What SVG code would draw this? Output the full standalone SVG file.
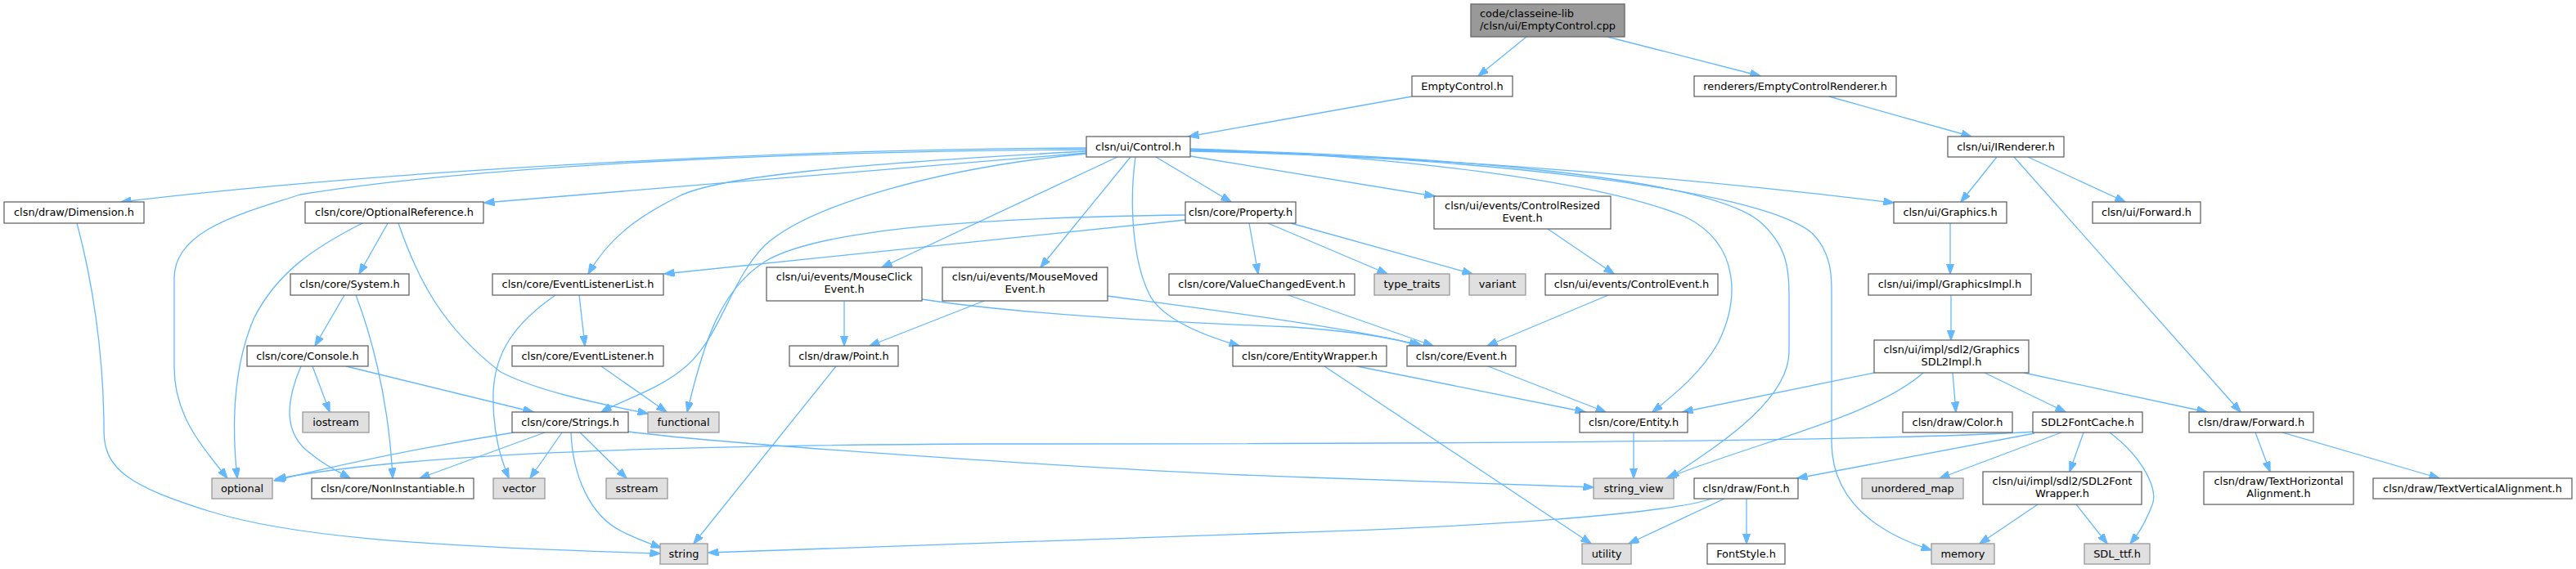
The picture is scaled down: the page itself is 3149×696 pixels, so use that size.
<svg xmlns="http://www.w3.org/2000/svg" width="3149" height="696" viewBox="0 0 3149 696">
<style>
text{font-family:"DejaVu Sans","Liberation Sans",sans-serif;font-size:12.9px;fill:#000;text-anchor:middle}
.n rect{fill:#fff;stroke:#666;stroke-width:1.3}
.s rect{fill:#e0e0e0;stroke:#999;stroke-width:1.3}
.r rect{fill:#999;stroke:#666;stroke-width:1.3}
.r text{text-anchor:start}
#edges path{fill:none;stroke:#63b8ff;stroke-width:1.3;marker-end:url(#ah)}
</style>
<defs>
<marker id="ah" viewBox="0 0 13 9.4" refX="12.5" refY="4.7" markerWidth="13" markerHeight="9.4" markerUnits="userSpaceOnUse" orient="auto"><path d="M0,0 L13,4.7 L0,9.4 z" fill="#63b8ff" stroke="#63b8ff" stroke-width="1"/></marker>
</defs>
<rect width="3149" height="696" fill="#fff"/>
<g id="edges">
<path d="M1866,45 L1807,93"/>
<path d="M1965,45 L2152,93"/>
<path d="M1726,118 L1453,167"/>
<path d="M2236,118 L2410,167"/>
<path d="M1328,181 C1000,182 500,205 148,247"/>
<path d="M1328,183 C1000,185 600,200 367,238 C300,260 213,280 213,340 L213,450 C213,510 250,550 278,585"/>
<path d="M1328,187 L592,248"/>
<path d="M1328,185 C1050,200 880,215 830,240 C780,265 745,290 719,335"/>
<path d="M1328,188 C1150,205 990,250 935,300 C890,345 880,420 830,455 C800,478 760,490 735,504"/>
<path d="M1449,263 C1200,266 1000,280 935,320 C880,355 860,420 840,504"/>
<path d="M1366,192 L1078,327"/>
<path d="M1382,192 L1272,327"/>
<path d="M1388,192 C1380,250 1385,320 1405,360 C1420,390 1470,410 1515,423"/>
<path d="M1413,192 L1505,247"/>
<path d="M1455,191 L1754,240"/>
<path d="M1455,185 C1700,190 2000,210 2315,248"/>
<path d="M1455,182 C1700,190 1950,220 2060,265 C2130,300 2125,370 2100,420 C2080,455 2050,480 2020,504"/>
<path d="M1455,183 C1750,190 2080,215 2150,270 C2185,300 2187,330 2187,360 L2187,430 C2187,490 2100,545 2040,585"/>
<path d="M1455,184 C1800,192 2150,230 2215,285 C2240,310 2239,340 2239,360 L2239,540 C2239,610 2290,650 2361,673"/>
<path d="M474,273 L439,335"/>
<path d="M443,273 C390,300 340,330 310,390 C285,450 283,520 290,585"/>
<path d="M487,273 C510,340 540,400 612,455 C660,480 740,495 792,506"/>
<path d="M421,361 L385,423"/>
<path d="M435,361 C450,400 475,480 480,585"/>
<path d="M382,448 L403,504"/>
<path d="M423,448 L652,504"/>
<path d="M368,448 C350,490 345,530 380,555 C395,568 410,575 428,585"/>
<path d="M679,361 C630,395 605,430 603,480 C602,530 612,560 622,585"/>
<path d="M708,361 L715,423"/>
<path d="M735,448 L815,504"/>
<path d="M628,529 C560,540 450,560 335,588"/>
<path d="M666,529 L513,585"/>
<path d="M687,529 L648,585"/>
<path d="M709,529 L766,585"/>
<path d="M698,529 C700,580 720,630 760,650 C780,660 795,665 808,670"/>
<path d="M768,528 C900,545 1400,578 1600,584 C1750,589 1880,593 1948,596"/>
<path d="M94,273 C112,340 127,430 127,527 C127,575 160,595 255,625 C350,655 500,668 807,677"/>
<path d="M1022,448 L848,665"/>
<path d="M1032,368 L1032,423"/>
<path d="M1127,366 C1250,385 1450,395 1580,400 C1650,405 1700,412 1735,423"/>
<path d="M1203,368 L1063,423"/>
<path d="M1354,362 C1450,375 1650,400 1739,423"/>
<path d="M1575,361 L1752,423"/>
<path d="M1966,361 L1818,423"/>
<path d="M1892,280 L1973,335"/>
<path d="M1527,273 L1538,335"/>
<path d="M1550,273 L1696,335"/>
<path d="M1578,273 L1800,335"/>
<path d="M1449,269 L812,335"/>
<path d="M1819,448 L1963,504"/>
<path d="M1659,448 L1938,504"/>
<path d="M1619,448 L1945,665"/>
<path d="M1997,529 L1997,585"/>
<path d="M2384,273 L2384,335"/>
<path d="M2385,361 L2385,416"/>
<path d="M2291,456 L2057,504"/>
<path d="M2351,456 C2290,510 2150,540 2037,585"/>
<path d="M2387,456 L2391,504"/>
<path d="M2426,456 L2525,504"/>
<path d="M2474,456 L2698,504"/>
<path d="M2441,192 L2397,247"/>
<path d="M2479,192 L2598,247"/>
<path d="M2462,192 L2739,504"/>
<path d="M2757,529 L2775,577"/>
<path d="M2790,529 L2982,585"/>
<path d="M2489,528 C2300,540 1700,543 1200,543 C800,545 500,555 337,586"/>
<path d="M2487,530 L2197,585"/>
<path d="M2520,529 L2371,585"/>
<path d="M2547,529 L2530,577"/>
<path d="M2579,529 C2620,560 2640,600 2630,620 C2620,645 2612,655 2604,665"/>
<path d="M2491,617 L2420,665"/>
<path d="M2538,617 L2576,665"/>
<path d="M2108,610 L1991,665"/>
<path d="M2135,610 L2135,665"/>
<path d="M2093,610 C2030,630 1800,645 1560,652 L866,676"/>
</g>
<g id="n_cpp" class="r"><rect x="1798" y="5" width="188" height="40"/><text x="1809" y="20.5">code/classeine-lib</text><text x="1809" y="35.7">/clsn/ui/EmptyControl.cpp</text></g>
<g id="n_emptyctl" class="n"><rect x="1726" y="93" width="123" height="25"/><text x="1787.5" y="109.5">EmptyControl.h</text></g>
<g id="n_renderer" class="n"><rect x="2071" y="93" width="247" height="25"/><text x="2194.5" y="109.5">renderers/EmptyControlRenderer.h</text></g>
<g id="n_control" class="n"><rect x="1328" y="167" width="127" height="25"/><text x="1391.5" y="183.5">clsn/ui/Control.h</text></g>
<g id="n_irenderer" class="n"><rect x="2381" y="167" width="142" height="25"/><text x="2452" y="183.5">clsn/ui/IRenderer.h</text></g>
<g id="n_dimension" class="n"><rect x="5" y="247" width="171" height="26"/><text x="90.5" y="263.5">clsn/draw/Dimension.h</text></g>
<g id="n_optref" class="n"><rect x="373" y="247" width="218" height="26"/><text x="482" y="263.5">clsn/core/OptionalReference.h</text></g>
<g id="n_property" class="n"><rect x="1449" y="247" width="135" height="26"/><text x="1516.5" y="263.5">clsn/core/Property.h</text></g>
<g id="n_ctlresized" class="n"><rect x="1753" y="240" width="216" height="40"/><text x="1861" y="255.5">clsn/ui/events/ControlResized</text><text x="1861" y="270.7">Event.h</text></g>
<g id="n_graphics" class="n"><rect x="2315" y="247" width="138" height="26"/><text x="2384" y="263.5">clsn/ui/Graphics.h</text></g>
<g id="n_uiforward" class="n"><rect x="2558" y="247" width="132" height="26"/><text x="2624" y="263.5">clsn/ui/Forward.h</text></g>
<g id="n_system" class="n"><rect x="355" y="335" width="145" height="26"/><text x="427.5" y="351.5">clsn/core/System.h</text></g>
<g id="n_evlistlist" class="n"><rect x="602" y="335" width="209" height="26"/><text x="706.5" y="351.5">clsn/core/EventListenerList.h</text></g>
<g id="n_mouseclick" class="n"><rect x="937" y="327" width="190" height="41"/><text x="1032" y="343">clsn/ui/events/MouseClick</text><text x="1032" y="358.3">Event.h</text></g>
<g id="n_mousemoved" class="n"><rect x="1152" y="327" width="202" height="41"/><text x="1253" y="343">clsn/ui/events/MouseMoved</text><text x="1253" y="358.3">Event.h</text></g>
<g id="n_valuechanged" class="n"><rect x="1429" y="335" width="227" height="26"/><text x="1542.5" y="351.5">clsn/core/ValueChangedEvent.h</text></g>
<g id="n_typetraits" class="s"><rect x="1680" y="335" width="92" height="26"/><text x="1726" y="351.5">type_traits</text></g>
<g id="n_variant" class="s"><rect x="1796" y="335" width="69" height="26"/><text x="1830.5" y="351.5">variant</text></g>
<g id="n_ctlevent" class="n"><rect x="1889" y="335" width="211" height="26"/><text x="1994.5" y="351.5">clsn/ui/events/ControlEvent.h</text></g>
<g id="n_gfximpl" class="n"><rect x="2284" y="335" width="199" height="26"/><text x="2383.5" y="351.5">clsn/ui/impl/GraphicsImpl.h</text></g>
<g id="n_console" class="n"><rect x="302" y="423" width="148" height="25"/><text x="376" y="439.5">clsn/core/Console.h</text></g>
<g id="n_evlistener" class="n"><rect x="626" y="423" width="185" height="25"/><text x="718.5" y="439.5">clsn/core/EventListener.h</text></g>
<g id="n_point" class="n"><rect x="965" y="423" width="133" height="25"/><text x="1031.5" y="439.5">clsn/draw/Point.h</text></g>
<g id="n_entitywrapper" class="n"><rect x="1507" y="423" width="188" height="25"/><text x="1601" y="439.5">clsn/core/EntityWrapper.h</text></g>
<g id="n_event" class="n"><rect x="1720" y="423" width="133" height="25"/><text x="1786.5" y="439.5">clsn/core/Event.h</text></g>
<g id="n_gfxsdl2" class="n"><rect x="2291" y="416" width="189" height="40"/><text x="2385.5" y="431.5">clsn/ui/impl/sdl2/Graphics</text><text x="2385.5" y="446.7">SDL2Impl.h</text></g>
<g id="n_iostream" class="s"><rect x="370" y="504" width="81" height="25"/><text x="410.5" y="520.5">iostream</text></g>
<g id="n_strings" class="n"><rect x="626" y="504" width="142" height="25"/><text x="697" y="520.5">clsn/core/Strings.h</text></g>
<g id="n_functional" class="s"><rect x="792" y="504" width="87" height="25"/><text x="835.5" y="520.5">functional</text></g>
<g id="n_entity" class="n"><rect x="1931" y="504" width="132" height="25"/><text x="1997" y="520.5">clsn/core/Entity.h</text></g>
<g id="n_color" class="n"><rect x="2326" y="504" width="134" height="25"/><text x="2393" y="520.5">clsn/draw/Color.h</text></g>
<g id="n_fontcache" class="n"><rect x="2485" y="504" width="134" height="25"/><text x="2552" y="520.5">SDL2FontCache.h</text></g>
<g id="n_drawforward" class="n"><rect x="2676" y="504" width="152" height="25"/><text x="2752" y="520.5">clsn/draw/Forward.h</text></g>
<g id="n_optional" class="s"><rect x="259" y="585" width="74" height="25"/><text x="296" y="601.5">optional</text></g>
<g id="n_noninst" class="n"><rect x="381" y="585" width="198" height="25"/><text x="480" y="601.5">clsn/core/NonInstantiable.h</text></g>
<g id="n_vector" class="s"><rect x="603" y="585" width="63" height="25"/><text x="634.5" y="601.5">vector</text></g>
<g id="n_sstream" class="s"><rect x="741" y="585" width="75" height="25"/><text x="778.5" y="601.5">sstream</text></g>
<g id="n_stringview" class="s"><rect x="1948" y="585" width="98" height="25"/><text x="1997" y="601.5">string_view</text></g>
<g id="n_font" class="n"><rect x="2071" y="585" width="127" height="25"/><text x="2134.5" y="601.5">clsn/draw/Font.h</text></g>
<g id="n_unordered" class="s"><rect x="2276" y="585" width="124" height="25"/><text x="2338" y="601.5">unordered_map</text></g>
<g id="n_fontwrapper" class="n"><rect x="2424" y="577" width="194" height="40"/><text x="2521" y="592.5">clsn/ui/impl/sdl2/SDL2Font</text><text x="2521" y="607.7">Wrapper.h</text></g>
<g id="n_texthoriz" class="n"><rect x="2694" y="577" width="183" height="40"/><text x="2785.5" y="592.5">clsn/draw/TextHorizontal</text><text x="2785.5" y="607.7">Alignment.h</text></g>
<g id="n_textvert" class="n"><rect x="2901" y="585" width="243" height="25"/><text x="3022.5" y="601.5">clsn/draw/TextVerticalAlignment.h</text></g>
<g id="n_string" class="s"><rect x="807" y="665" width="58" height="25"/><text x="836" y="681.5">string</text></g>
<g id="n_utility" class="s"><rect x="1934" y="665" width="60" height="25"/><text x="1964" y="681.5">utility</text></g>
<g id="n_fontstyle" class="n"><rect x="2087" y="665" width="95" height="25"/><text x="2134.5" y="681.5">FontStyle.h</text></g>
<g id="n_memory" class="s"><rect x="2361" y="665" width="77" height="25"/><text x="2399.5" y="681.5">memory</text></g>
<g id="n_sdlttf" class="s"><rect x="2548" y="665" width="80" height="25"/><text x="2588" y="681.5">SDL_ttf.h</text></g>
</svg>
